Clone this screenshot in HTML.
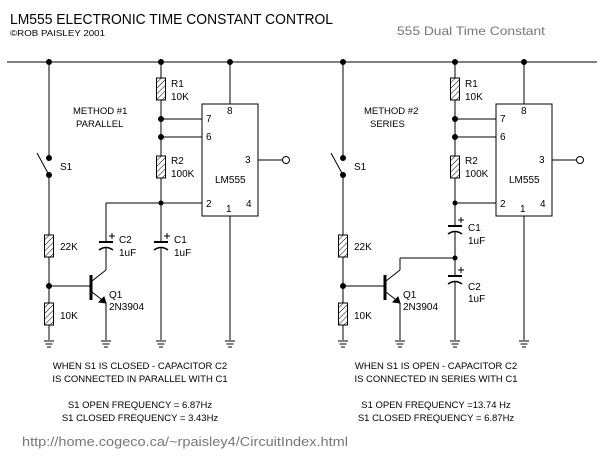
<!DOCTYPE html>
<html><head><style>
body{margin:0;background:#fff;}
svg{display:block}
text{font-family:"Liberation Sans",sans-serif;fill:#000}
</style></head><body>
<svg width="604" height="460" viewBox="0 0 604 460" xmlns="http://www.w3.org/2000/svg">
<defs>
<pattern id="h" width="4" height="4" patternUnits="userSpaceOnUse" patternTransform="rotate(45)">
<line x1="0" y1="0" x2="0" y2="4" stroke="#000" stroke-width="1"/>
</pattern>
<g id="res"><rect x="-4.5" y="0" width="9" height="22" fill="url(#h)" stroke="#000" stroke-width="1"/></g>
<g id="gnd" stroke="#000" stroke-width="1"><line x1="-5" y1="0" x2="5" y2="0"/><line x1="-3.5" y1="3" x2="3.5" y2="3"/><line x1="-2" y1="6" x2="2" y2="6"/></g>
<g id="cap" stroke="#000" fill="none"><line x1="-7" y1="0" x2="7" y2="0" stroke-width="2"/><path d="M-7 8 Q0 3 7 8" stroke-width="1.5"/><line x1="3" y1="-6" x2="9" y2="-6"/><line x1="6" y1="-9" x2="6" y2="-3"/></g>
<g id="ckt" stroke="#000" stroke-width="1" fill="none">
<line x1="49" y1="62" x2="49" y2="158"/>
<line x1="37" y1="153" x2="49" y2="175"/>
<circle cx="49" cy="158" r="2.5" fill="#000"/><circle cx="49" cy="175" r="2.5" fill="#000"/>
<line x1="49" y1="175" x2="49" y2="235"/>
<use href="#res" x="49" y="235"/>
<line x1="49" y1="257" x2="49" y2="303"/>
<circle cx="49" cy="286" r="2.5" fill="#000"/>
<use href="#res" x="49" y="303"/>
<line x1="49" y1="325" x2="49" y2="340"/>
<use href="#gnd" x="49" y="341"/>
<line x1="49" y1="286" x2="91" y2="286"/>
<line x1="91" y1="275" x2="91" y2="300" stroke-width="3"/>
<line x1="92" y1="281" x2="106" y2="270"/>
<line x1="92" y1="292" x2="106" y2="303"/>
<path d="M106 303 L99 302 L104 297 Z" fill="#000"/>
<line x1="106" y1="303" x2="106" y2="340"/>
<use href="#gnd" x="106" y="341"/>
<circle cx="161" cy="62" r="2.5" fill="#000"/>
<circle cx="49" cy="62" r="2.5" fill="#000"/>
<circle cx="230" cy="62" r="2.5" fill="#000"/>
<line x1="161" y1="62" x2="161" y2="78"/>
<use href="#res" x="161" y="78"/>
<line x1="161" y1="100" x2="161" y2="156"/>
<circle cx="161" cy="119" r="2.5" fill="#000"/><circle cx="161" cy="137" r="2.5" fill="#000"/>
<line x1="161" y1="119" x2="202" y2="119"/><line x1="161" y1="137" x2="202" y2="137"/>
<use href="#res" x="161" y="156"/>
<line x1="230" y1="62" x2="230" y2="104"/>
<rect x="202" y="104" width="56" height="112"/>
<line x1="258" y1="160" x2="283" y2="160"/>
<circle cx="286" cy="160" r="3.5" fill="#fff"/>
<line x1="230" y1="216" x2="230" y2="340"/>
<use href="#gnd" x="230" y="341"/>
</g>
</defs>
<line x1="7" y1="62" x2="597" y2="62" stroke="#000"/>
<g>
<use href="#ckt"/>
<g stroke="#000" fill="none">
<line x1="161" y1="178" x2="161" y2="242"/>
<line x1="106" y1="203" x2="202" y2="203"/>
<line x1="106" y1="203" x2="106" y2="242"/>
<line x1="106" y1="248" x2="106" y2="270"/>
<line x1="161" y1="248" x2="161" y2="340"/>
</g>
<circle cx="161" cy="203" r="2.5"/>
<use href="#cap" x="106" y="242"/><use href="#cap" x="161" y="242"/>
<use href="#gnd" x="161" y="341"/>
</g>
<g transform="translate(294,0)">
<use href="#ckt"/>
<g stroke="#000" fill="none">
<line x1="161" y1="178" x2="161" y2="226"/>
<line x1="161" y1="203" x2="202" y2="203"/>
<line x1="161" y1="232" x2="161" y2="276"/>
<line x1="106" y1="270" x2="106" y2="258"/><line x1="106" y1="258" x2="161" y2="258"/>
<line x1="161" y1="282" x2="161" y2="340"/>
</g>
<circle cx="161" cy="203" r="2.5"/><circle cx="161" cy="258" r="2.5"/>
<use href="#cap" x="161" y="226"/><use href="#cap" x="161" y="276"/>
<use href="#gnd" x="161" y="341"/>
</g>
<g font-size="10">
<text x="60" y="170">S1</text>
<text x="60" y="250">22K</text><text x="60" y="319">10K</text>
<text x="109" y="298">Q1</text><text x="109" y="310">2N3904</text>
<text x="171" y="87">R1</text><text x="171" y="100">10K</text>
<text x="171" y="164">R2</text><text x="171" y="177">100K</text>
<text x="119" y="243">C2</text><text x="119" y="256">1uF</text>
<text x="174" y="243">C1</text><text x="174" y="256">1uF</text>
<text x="73" y="114" font-size="9.5">METHOD #1</text><text x="76" y="127" font-size="9.5">PARALLEL</text>
<text x="227" y="114">8</text><text x="206" y="122">7</text><text x="206" y="140">6</text><text x="245" y="163">3</text><text x="206" y="207">2</text><text x="226" y="212">1</text><text x="246" y="207">4</text>
<text x="215" y="183">LM555</text>
<g transform="translate(294,0)">
<text x="60" y="170">S1</text>
<text x="60" y="250">22K</text><text x="60" y="319">10K</text>
<text x="109" y="298">Q1</text><text x="109" y="310">2N3904</text>
<text x="171" y="87">R1</text><text x="171" y="100">10K</text>
<text x="171" y="164">R2</text><text x="171" y="177">100K</text>
<text x="174" y="231">C1</text><text x="174" y="244">1uF</text>
<text x="174" y="290">C2</text><text x="174" y="302">1uF</text>
<text x="70" y="114" font-size="9.5">METHOD #2</text><text x="76" y="127" font-size="9.5">SERIES</text>
<text x="227" y="114">8</text><text x="206" y="122">7</text><text x="206" y="140">6</text><text x="245" y="163">3</text><text x="206" y="207">2</text><text x="226" y="212">1</text><text x="246" y="207">4</text>
<text x="215" y="183">LM555</text>
</g>
</g>
<text x="10" y="24" font-size="15" textLength="323" lengthAdjust="spacingAndGlyphs">LM555 ELECTRONIC TIME CONSTANT CONTROL</text>
<text x="10" y="36" font-size="8.5" textLength="95" lengthAdjust="spacingAndGlyphs">©ROB PAISLEY 2001</text>
<text x="397" y="35" font-size="12" style="fill:#777" textLength="148" lengthAdjust="spacingAndGlyphs">555 Dual Time Constant</text>
<g font-size="9.5" text-anchor="middle">
<text x="140" y="369">WHEN S1 IS CLOSED - CAPACITOR C2</text>
<text x="140" y="382">IS CONNECTED IN PARALLEL WITH C1</text>
<text x="140" y="408">S1 OPEN FREQUENCY = 6.87Hz</text>
<text x="140" y="421">S1 CLOSED FREQUENCY = 3.43Hz</text>
<text x="436" y="369">WHEN S1 IS OPEN - CAPACITOR C2</text>
<text x="436" y="382">IS CONNECTED IN SERIES WITH C1</text>
<text x="436" y="408">S1 OPEN FREQUENCY =13.74 Hz</text>
<text x="436" y="421">S1 CLOSED FREQUENCY = 6.87Hz</text>
</g>
<text x="22" y="446" font-size="12.5" style="fill:#777" textLength="326" lengthAdjust="spacingAndGlyphs">http://home.cogeco.ca/~rpaisley4/CircuitIndex.html</text>
</svg>
</body></html>
